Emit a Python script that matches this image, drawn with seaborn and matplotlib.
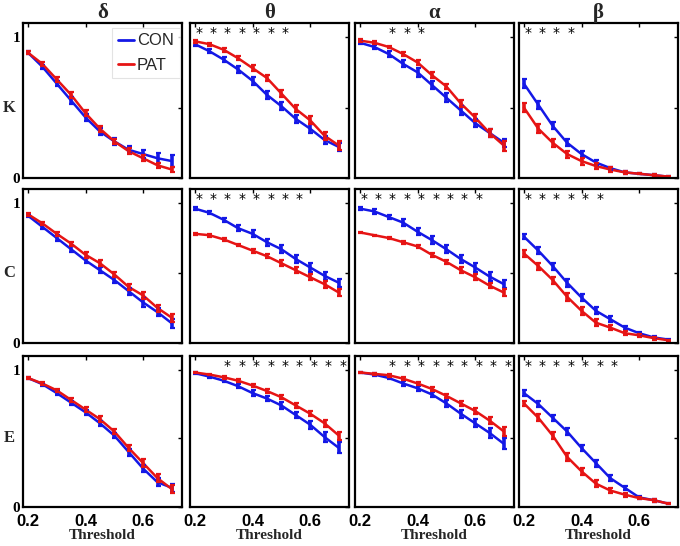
import numpy as np
import pandas as pd
import matplotlib
matplotlib.use('Agg')
import matplotlib.pyplot as plt
from matplotlib.lines import Line2D
import seaborn as sns

thresholds = [0.2, 0.25, 0.3, 0.35, 0.4, 0.45, 0.5, 0.55, 0.6, 0.65, 0.7]
bands = ['δ', 'θ', 'α', 'β']
measures = ['K', 'C', 'E']

# K (degree)
k_delta_con = [0.89, 0.79, 0.67, 0.55, 0.43, 0.33, 0.26, 0.20, 0.17, 0.14, 0.12]
k_delta_pat = [0.89, 0.81, 0.70, 0.59, 0.46, 0.35, 0.26, 0.19, 0.14, 0.09, 0.06]
k_theta_con = [0.95, 0.90, 0.84, 0.77, 0.69, 0.59, 0.51, 0.42, 0.35, 0.27, 0.22]
k_theta_pat = [0.97, 0.95, 0.91, 0.85, 0.78, 0.71, 0.60, 0.49, 0.41, 0.30, 0.23]
k_alpha_con = [0.96, 0.93, 0.88, 0.81, 0.75, 0.66, 0.57, 0.48, 0.39, 0.32, 0.25]
k_alpha_pat = [0.975, 0.96, 0.93, 0.88, 0.82, 0.73, 0.65, 0.53, 0.43, 0.32, 0.23]
k_beta_con = [0.67, 0.52, 0.37, 0.25, 0.17, 0.11, 0.07, 0.04, 0.03, 0.02, 0.01]
k_beta_pat = [0.50, 0.35, 0.25, 0.17, 0.12, 0.085, 0.06, 0.04, 0.03, 0.02, 0.01]

# C (clustering)
c_delta_con = [0.91, 0.83, 0.75, 0.67, 0.59, 0.52, 0.45, 0.37, 0.29, 0.22, 0.14]
c_delta_pat = [0.92, 0.855, 0.78, 0.71, 0.63, 0.57, 0.49, 0.40, 0.34, 0.25, 0.18]
c_theta_con = [0.96, 0.93, 0.88, 0.82, 0.78, 0.72, 0.67, 0.60, 0.54, 0.48, 0.43]
c_theta_pat = [0.78, 0.77, 0.74, 0.70, 0.66, 0.62, 0.57, 0.52, 0.47, 0.42, 0.36]
c_alpha_con = [0.96, 0.94, 0.90, 0.86, 0.795, 0.735, 0.67, 0.60, 0.54, 0.475, 0.42]
c_alpha_pat = [0.79, 0.77, 0.75, 0.72, 0.69, 0.63, 0.58, 0.52, 0.47, 0.41, 0.36]
c_beta_con = [0.76, 0.66, 0.55, 0.43, 0.325, 0.23, 0.17, 0.11, 0.07, 0.04, 0.025]
c_beta_pat = [0.64, 0.55, 0.45, 0.33, 0.23, 0.145, 0.11, 0.07, 0.055, 0.035, 0.02]

# E (efficiency)
e_delta_con = [0.94, 0.895, 0.83, 0.76, 0.69, 0.61, 0.52, 0.40, 0.28, 0.18, 0.14]
e_delta_pat = [0.94, 0.90, 0.85, 0.78, 0.71, 0.64, 0.55, 0.43, 0.32, 0.21, 0.13]
e_theta_con = [0.975, 0.95, 0.92, 0.88, 0.83, 0.79, 0.74, 0.67, 0.60, 0.51, 0.43]
e_theta_pat = [0.98, 0.965, 0.945, 0.92, 0.885, 0.845, 0.80, 0.74, 0.68, 0.61, 0.52]
e_alpha_con = [0.98, 0.965, 0.94, 0.90, 0.865, 0.82, 0.755, 0.68, 0.61, 0.54, 0.46]
e_alpha_pat = [0.98, 0.97, 0.96, 0.935, 0.90, 0.86, 0.81, 0.755, 0.70, 0.63, 0.55]
e_beta_con = [0.83, 0.75, 0.65, 0.55, 0.43, 0.32, 0.21, 0.14, 0.07, 0.05, 0.025]
e_beta_pat = [0.755, 0.65, 0.52, 0.365, 0.26, 0.17, 0.12, 0.09, 0.065, 0.05, 0.025]

# error bar half-lengths
k_delta_con_err = [0.01, 0.015, 0.02, 0.025, 0.025, 0.025, 0.025, 0.025, 0.03, 0.035, 0.04]
k_delta_pat_err = [0.01, 0.015, 0.02, 0.02, 0.02, 0.02, 0.02, 0.02, 0.02, 0.02, 0.015]
k_theta_con_err = [0.01, 0.015, 0.02, 0.025, 0.03, 0.03, 0.03, 0.03, 0.03, 0.03, 0.03]
k_theta_pat_err = [0.01, 0.01, 0.015, 0.015, 0.02, 0.02, 0.025, 0.025, 0.03, 0.03, 0.03]
k_alpha_con_err = [0.01, 0.015, 0.02, 0.025, 0.03, 0.03, 0.03, 0.03, 0.03, 0.03, 0.03]
k_alpha_pat_err = [0.01, 0.01, 0.01, 0.015, 0.015, 0.02, 0.02, 0.025, 0.025, 0.03, 0.035]
k_beta_con_err = [0.03, 0.03, 0.025, 0.025, 0.02, 0.015, 0.01, 0.01, 0.005, 0.005, 0.005]
k_beta_pat_err = [0.03, 0.03, 0.03, 0.025, 0.025, 0.02, 0.015, 0.01, 0.005, 0.005, 0.005]
c_delta_con_err = [0.01, 0.015, 0.02, 0.02, 0.02, 0.02, 0.02, 0.025, 0.03, 0.03, 0.03]
c_delta_pat_err = [0.01, 0.01, 0.015, 0.015, 0.02, 0.02, 0.02, 0.02, 0.025, 0.025, 0.03]
c_theta_con_err = [0.01, 0.01, 0.015, 0.02, 0.025, 0.025, 0.03, 0.03, 0.03, 0.03, 0.03]
c_theta_pat_err = [0.005, 0.01, 0.01, 0.01, 0.015, 0.015, 0.02, 0.02, 0.02, 0.025, 0.025]
c_alpha_con_err = [0.01, 0.015, 0.015, 0.025, 0.025, 0.03, 0.03, 0.03, 0.03, 0.03, 0.03]
c_alpha_pat_err = [0.005, 0.005, 0.01, 0.01, 0.01, 0.015, 0.015, 0.02, 0.02, 0.02, 0.025]
c_beta_con_err = [0.02, 0.025, 0.025, 0.03, 0.025, 0.025, 0.02, 0.015, 0.01, 0.01, 0.005]
c_beta_pat_err = [0.025, 0.025, 0.025, 0.03, 0.03, 0.025, 0.02, 0.015, 0.01, 0.01, 0.005]
e_delta_con_err = [0.01, 0.01, 0.015, 0.015, 0.02, 0.02, 0.02, 0.025, 0.025, 0.03, 0.03]
e_delta_pat_err = [0.01, 0.01, 0.01, 0.015, 0.015, 0.02, 0.02, 0.025, 0.03, 0.03, 0.03]
e_theta_con_err = [0.005, 0.01, 0.01, 0.015, 0.02, 0.02, 0.025, 0.025, 0.03, 0.035, 0.04]
e_theta_pat_err = [0.005, 0.005, 0.01, 0.01, 0.01, 0.015, 0.015, 0.02, 0.02, 0.025, 0.03]
e_alpha_con_err = [0.005, 0.01, 0.01, 0.015, 0.02, 0.02, 0.025, 0.03, 0.03, 0.035, 0.04]
e_alpha_pat_err = [0.005, 0.005, 0.01, 0.01, 0.01, 0.015, 0.015, 0.02, 0.02, 0.025, 0.03]
e_beta_con_err = [0.02, 0.02, 0.02, 0.025, 0.025, 0.025, 0.02, 0.015, 0.01, 0.01, 0.005]
e_beta_pat_err = [0.02, 0.025, 0.025, 0.03, 0.025, 0.025, 0.02, 0.015, 0.01, 0.01, 0.005]

# thresholds marked with a significance star
k_stars = [[], [0.2, 0.25, 0.3, 0.35, 0.4, 0.45, 0.5], [0.3, 0.35, 0.4], [0.2, 0.25, 0.3, 0.35]]
c_stars = [[], [0.2, 0.25, 0.3, 0.35, 0.4, 0.45, 0.5, 0.55],
           [0.2, 0.25, 0.3, 0.35, 0.4, 0.45, 0.5, 0.55, 0.6], [0.2, 0.25, 0.3, 0.35, 0.4, 0.45]]
e_stars = [[], [0.3, 0.35, 0.4, 0.45, 0.5, 0.55, 0.6, 0.65, 0.7],
           [0.3, 0.35, 0.4, 0.45, 0.5, 0.55, 0.6, 0.65, 0.7], [0.2, 0.25, 0.3, 0.35, 0.4, 0.45, 0.5]]

panels = {
    'K': [(k_delta_con, k_delta_pat, k_delta_con_err, k_delta_pat_err),
          (k_theta_con, k_theta_pat, k_theta_con_err, k_theta_pat_err),
          (k_alpha_con, k_alpha_pat, k_alpha_con_err, k_alpha_pat_err),
          (k_beta_con, k_beta_pat, k_beta_con_err, k_beta_pat_err)],
    'C': [(c_delta_con, c_delta_pat, c_delta_con_err, c_delta_pat_err),
          (c_theta_con, c_theta_pat, c_theta_con_err, c_theta_pat_err),
          (c_alpha_con, c_alpha_pat, c_alpha_con_err, c_alpha_pat_err),
          (c_beta_con, c_beta_pat, c_beta_con_err, c_beta_pat_err)],
    'E': [(e_delta_con, e_delta_pat, e_delta_con_err, e_delta_pat_err),
          (e_theta_con, e_theta_pat, e_theta_con_err, e_theta_pat_err),
          (e_alpha_con, e_alpha_pat, e_alpha_con_err, e_alpha_pat_err),
          (e_beta_con, e_beta_pat, e_beta_con_err, e_beta_pat_err)],
}
stars = {'K': k_stars, 'C': c_stars, 'E': e_stars}

blue = '#1418e6'
red = '#e61414'
serif = 'Liberation Serif'
sans = 'Liberation Sans'

sns.set_style('white')
plt.rcParams['font.family'] = ['DejaVu Sans']

W, H = 680, 546
fig = plt.figure(figsize=(W / 100, H / 100), dpi=100)

col_left = [23, 190, 355, 519]
col_w = 159
row_top = [23, 189, 356]
row_h = [155, 154, 151]

for r, m in enumerate(measures):
    for c, band in enumerate(bands):
        ax = fig.add_axes([col_left[c] / W, 1 - (row_top[r] + row_h[r]) / H,
                           col_w / W, row_h[r] / H])
        con, pat, con_err, pat_err = panels[m][c]
        df = pd.DataFrame({
            'Threshold': thresholds * 2,
            'value': con + pat,
            'group': ['CON'] * len(thresholds) + ['PAT'] * len(thresholds),
        })
        sns.lineplot(data=df, x='Threshold', y='value', hue='group',
                     palette={'CON': blue, 'PAT': red}, linewidth=1.8,
                     legend=False, ax=ax)
        ax.errorbar(thresholds, con, yerr=con_err, fmt='none', ecolor=blue,
                    elinewidth=2.6, capsize=1.8, capthick=1.6)
        ax.errorbar(thresholds, pat, yerr=pat_err, fmt='none', ecolor=red,
                    elinewidth=2.6, capsize=1.8, capthick=1.6)
        for s in stars[m][c]:
            ax.text(s + 0.013, 1.03, '*', ha='center', va='center',
                    fontsize=10, color='black')

        ax.set_xlim(0.183, 0.735)
        ax.set_ylim(0, 1.1)
        ax.set_xticks([0.2, 0.4, 0.6])
        ax.set_yticks([0, 0.5, 1])
        ax.tick_params(direction='in', length=3, width=1, top=True, right=True,
                       colors='black', pad=2)
        ax.tick_params(axis='x', pad=5)
        for sp in ax.spines.values():
            sp.set_linewidth(1.6)
            sp.set_color('black')
            sp.set_visible(True)

        if c == 0:
            ax.set_yticklabels(['0', '', '1'], fontsize=11, fontweight='bold',
                               family=serif)
            ax.text(-0.085, 0.5 / 1.1, m, transform=ax.transAxes, ha='center',
                    va='center', fontsize=12, fontweight='bold', family=serif)
        else:
            ax.set_yticklabels([])
        ax.set_ylabel('')

        if r == 2:
            ax.set_xticklabels(['0.2', '0.4', '0.6'], fontsize=12,
                               fontweight='bold', family=sans)
            ax.set_xlabel('Threshold', fontsize=11, fontweight='bold',
                          family=serif, labelpad=0)
        else:
            ax.set_xticklabels([])
            ax.set_xlabel('')

        if r == 0:
            ax.set_title(band, fontsize=15, fontweight='bold', family=serif, pad=3)

        if r == 0 and c == 0:
            handles = [Line2D([0], [0], color=blue, lw=2),
                       Line2D([0], [0], color=red, lw=2)]
            leg = ax.legend(handles, ['CON', 'PAT'], loc='upper right',
                            bbox_to_anchor=(0.985, 0.97),
                            handlelength=1.0, handletextpad=0.15,
                            borderpad=0.35, labelspacing=0.55, frameon=True,
                            fancybox=False, borderaxespad=0,
                            prop={'family': sans, 'size': 12})
            leg.get_frame().set_edgecolor('#dddddd')
            leg.get_frame().set_linewidth(0.8)

fig.savefig('out.png', dpi=100)
